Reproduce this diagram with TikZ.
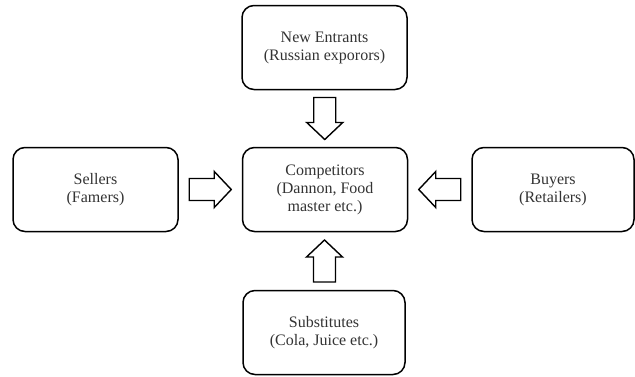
\documentclass[tikz,border=0pt]{standalone}
\usepackage{fontspec}
\setmainfont{Liberation Serif}
\usetikzlibrary{calc}
\begin{document}
\begin{tikzpicture}[x=1pt,y=-1pt,
  force/.style={draw=black, line width=1.5pt, rounded corners=12pt, fill=white,
    minimum width=165pt, minimum height=84pt, align=center, inner sep=0pt,
    text=black!80, font=\fontsize{16}{18}\selectfont},
  blockarrow/.style={draw=black, line width=1.4pt, fill=white, line join=miter}]
  \useasboundingbox (0,0) rectangle (635,376);
  % the five forces
  \node[force] (entrants) at (324.5,47.5) {New Entrants\\(Russian exporors)};
  \node[force] (rivals)   at (325,189.5)  {Competitors\\(Dannon, Food\\master etc.)};
  \node[force] (sellers)  at (95.5,189.5) {Sellers\\(Famers)};
  \node[force, minimum width=162pt] (buyers) at (553,189.5) {Buyers\\(Retailers)};
  \node[force, minimum width=162pt] (subst)  at (324,332.5) {Substitutes\\(Cola, Juice etc.)};
  % hollow block arrows, centred between each outer box and the centre box
  \coordinate (aTop)    at ($(entrants.south)!0.5!(rivals.north)$);
  \coordinate (aBottom) at ($(subst.north)!0.5!(rivals.south)$);
  \coordinate (aLeft)   at ($(sellers.east)!0.5!(rivals.west)$);
  \coordinate (aRight)  at ($(buyers.west)!0.5!(rivals.east)$);
  \foreach \c/\r in {aTop/-90, aBottom/90, aLeft/0, aRight/180}{
    \draw[blockarrow, shift={(\c)}, rotate=\r]
      (-21,-11) -- (4,-11) -- (4,-18) -- (21,0) -- (4,18) -- (4,11) -- (-21,11) -- cycle;
  }
\end{tikzpicture}
\end{document}
